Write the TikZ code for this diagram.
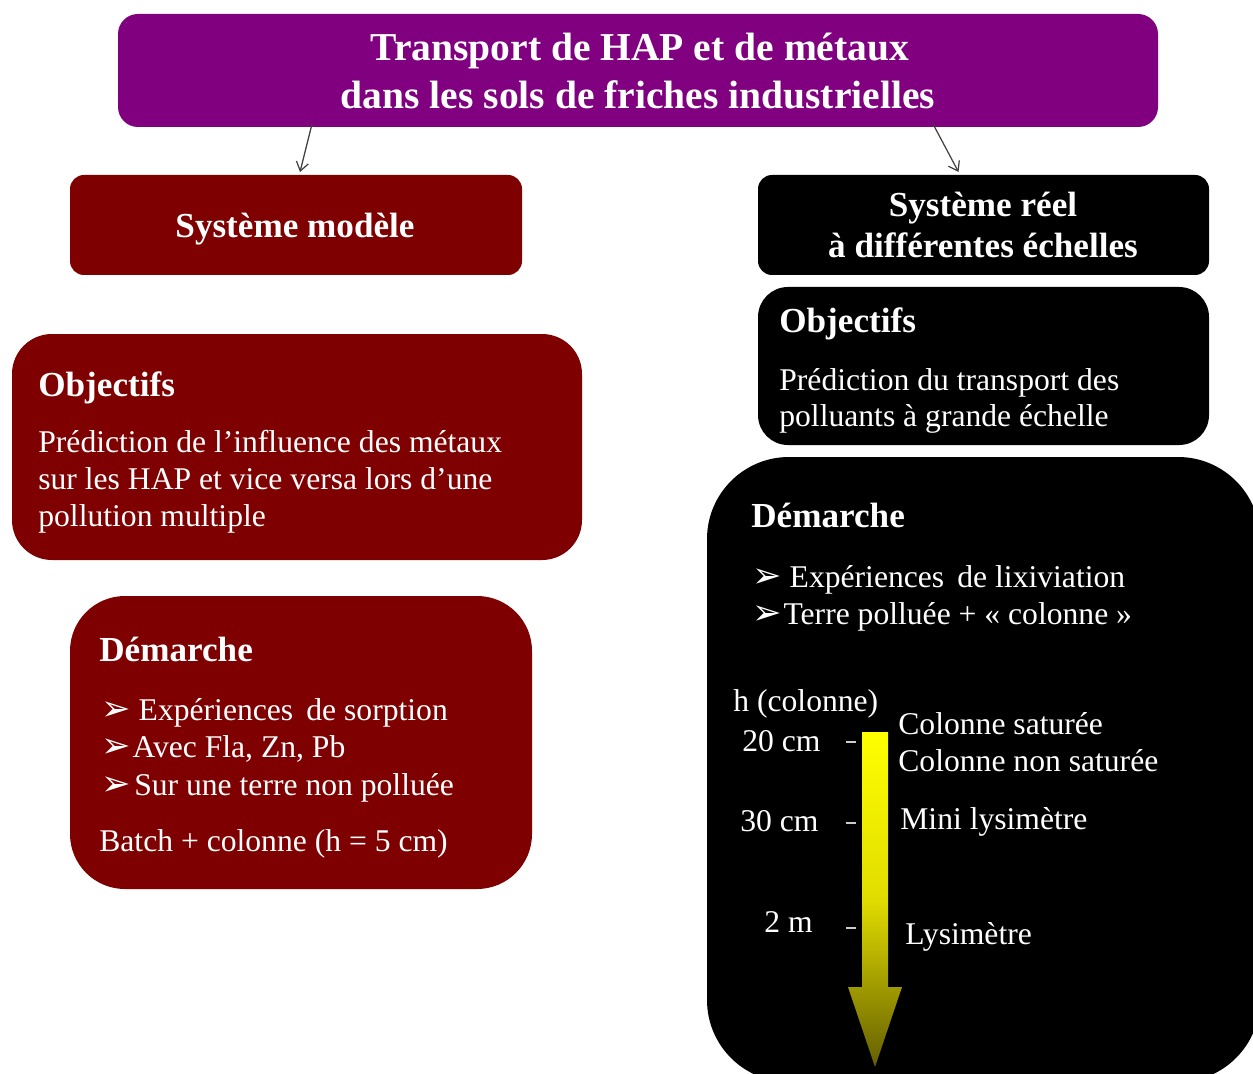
\documentclass[tikz,border=0pt]{standalone}
\usepackage{fontspec}
\setmainfont{Liberation Serif}
\newfontfamily\symfont{DejaVu Sans}
\usetikzlibrary{fit,calc,arrows.meta}
\definecolor{tpurple}{HTML}{800080}
\definecolor{dred}{HTML}{7F0000}
\definecolor{olivedark}{RGB}{100,94,0}
\definecolor{olivemid}{RGB}{225,220,0}
\newcommand{\bul}{{\symfont\fontsize{20}{20}\selectfont ➢}}
\begin{document}
\begin{tikzpicture}[x=0.02cm,y=-0.02cm,
  box/.style={inner sep=0pt, outer sep=0pt, draw=none},
  txt/.style={text=white, inner sep=0pt, anchor=base west, font=\fontsize{18}{21}\selectfont},
  hd/.style={text=white, inner sep=0pt, anchor=base west, font=\fontsize{20}{24}\selectfont\bfseries},
  ttl/.style={text=white, inner sep=0pt, anchor=base, font=\fontsize{22.5}{26}\selectfont\bfseries},
  conn/.style={draw=black!75, line width=0.7pt, -{Straight Barb[length=5pt,width=7pt]}},
  tick/.style={draw=white!80!black, line width=0.8pt}
]
\useasboundingbox (0,0) rectangle (1253,1074);
\clip (0,0) rectangle (1253,1074);

% boxes
\node[box, fill=tpurple, rounded corners=0.4cm, fit={(118,14) (1158,127)}] (title) {};
\node[box, fill=dred, rounded corners=0.28cm, fit={(70,175) (522,275)}] (modele) {};
\node[box, fill=black, rounded corners=0.28cm, fit={(758,175) (1209,275)}] (reel) {};
\node[box, fill=dred, rounded corners=0.8cm, fit={(12,334) (582,560)}] (objL) {};
\node[box, fill=black, rounded corners=0.6cm, fit={(758,287) (1209,445)}] (objR) {};
\node[box, fill=dred, rounded corners=1.1cm, fit={(70,596) (532,889)}] (demL) {};
\node[box, fill=black, rounded corners=1.64cm, fit={(707,457) (1260,1082)}] (demR) {};

% connectors
\draw[conn] ($(title.south)+(-326,-3)$) -- ($(modele.north)+(4,-3)$);
\draw[conn] ($(title.south)+(295,-3)$) -- ($(reel.north)+(-25,-3)$);

% title
\node[ttl] (t1) at (640,61) {Transport de HAP et de métaux};
\node[ttl] (t2) at (638,109) {dans les sols de friches industrielles};

\node[ttl, font=\fontsize{20}{24}\selectfont\bfseries] (m1) at (295,238) {Système modèle};
\node[ttl, font=\fontsize{20}{24}\selectfont\bfseries] (r1) at (983,217) {Système réel};
\node[ttl, font=\fontsize{20}{24}\selectfont\bfseries] (r2) at (983,258) {à différentes échelles};

% left objectifs
\node[hd] (oLh) at (38,396) {Objectifs};
\node[txt] (oL1) at (38,452) {Prédiction de l’influence des métaux};
\node[txt] (oL2) at (38,489) {sur les HAP et vice versa lors d’une};
\node[txt] (oL3) at (38,526) {pollution multiple};

% left demarche
\node[hd] (dLh) at (99,661) {Démarche};
\node[txt] (dL1) at (101,720) {\bul\ Expériences\, de sorption};
\node[txt] (dL2) at (101,757) {\bul\kern1pt Avec Fla, Zn, Pb};
\node[txt] (dL3) at (101,795) {\bul\kern2pt Sur une terre non polluée};
\node[txt] (dL4) at (99,851) {Batch + colonne (h = 5 cm)};

% right objectifs
\node[hd] (oRh) at (779,332) {Objectifs};
\node[txt] (oR1) at (779,390) {Prédiction du transport des};
\node[txt] (oR2) at (779,426) {polluants à grande échelle};

% right demarche
\node[hd] (dRh) at (751,527) {Démarche};
\node[txt] (dR1) at (752,587) {\bul\ Expériences\, de lixiviation};
\node[txt] (dR2) at (752,624) {\bul\kern1pt Terre polluée + « colonne »};

% gradient arrow
\shade[top color=yellow, bottom color=olivedark, middle color=olivemid]
  (862,732) -- (888,732) -- (888,987) -- (902,987) -- (875,1067) -- (848,987) -- (862,987) -- cycle;
\draw[tick] (846,742) -- (856,742);
\draw[tick] (846,823) -- (856,823);
\draw[tick] (846,928) -- (856,928);

\node[txt] (hcol) at (733,711) {h (colonne)};
\node[txt] (h20) at (742,751) {20 cm};
\node[txt] (h30) at (740,831) {30 cm};
\node[txt] (h2m) at (764,932) {2 m};
\node[txt] (l1) at (898,734) {Colonne saturée};
\node[txt] (l2) at (898,771) {Colonne non saturée};
\node[txt] (l3) at (900,829) {Mini lysimètre};
\node[txt] (l4) at (905,944) {Lysimètre};
\end{tikzpicture}
\end{document}
